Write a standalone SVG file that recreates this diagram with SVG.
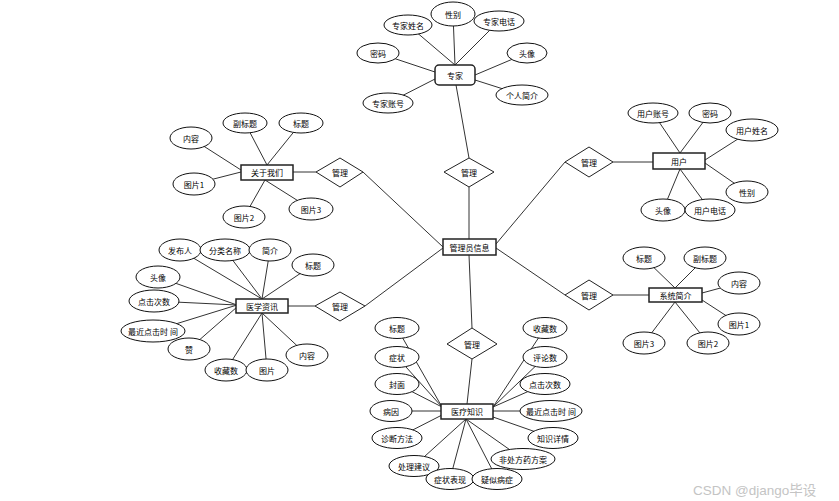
<svg xmlns="http://www.w3.org/2000/svg" width="839" height="501" viewBox="0 0 839 501">
<style>
.bg{fill:#fff}
.c line{stroke:#333;stroke-width:1}
.a{fill:#fff;stroke:#111;stroke-width:1}
.e{fill:#fff;stroke:#222;stroke-width:1.5}
.d{fill:#fff;stroke:#222;stroke-width:1}
text{font-family:"Noto Sans CJK SC","Liberation Sans",sans-serif;font-size:8px;text-anchor:middle;dominant-baseline:central;fill:#000}
.wm{font-family:"Liberation Sans","Noto Sans CJK SC",sans-serif;font-size:13.5px;fill:#c4c4c4;text-anchor:start}
</style>
<rect class="bg" x="0" y="0" width="839" height="501"/>
<g id="connectors" class="c">
<line x1="453" y1="14" x2="455" y2="65"/>
<line x1="408" y1="25" x2="455" y2="65"/>
<line x1="499" y1="21" x2="455" y2="65"/>
<line x1="378" y1="53" x2="435" y2="72"/>
<line x1="388" y1="103" x2="435" y2="79"/>
<line x1="527" y1="53" x2="475" y2="75"/>
<line x1="522" y1="95" x2="475" y2="80"/>
<line x1="456" y1="85" x2="469" y2="158"/>
<line x1="469" y1="187" x2="469" y2="239"/>
<line x1="293" y1="172" x2="316" y2="172"/>
<line x1="363" y1="172" x2="443" y2="247"/>
<line x1="191" y1="138" x2="241" y2="170"/>
<line x1="245" y1="123" x2="267" y2="165"/>
<line x1="301" y1="123" x2="267" y2="165"/>
<line x1="194" y1="184" x2="241" y2="172"/>
<line x1="244" y1="217" x2="265" y2="180"/>
<line x1="311" y1="209" x2="265" y2="180"/>
<line x1="613" y1="162" x2="653" y2="162"/>
<line x1="565" y1="162" x2="496" y2="244"/>
<line x1="653" y1="113" x2="680" y2="153"/>
<line x1="710" y1="113" x2="680" y2="153"/>
<line x1="752" y1="130" x2="705" y2="160"/>
<line x1="747" y1="192" x2="705" y2="163"/>
<line x1="663" y1="210" x2="680" y2="169"/>
<line x1="710" y1="210" x2="680" y2="169"/>
<line x1="288" y1="306" x2="315" y2="306"/>
<line x1="365" y1="306" x2="443" y2="248"/>
<line x1="180" y1="250" x2="262" y2="299"/>
<line x1="225" y1="250" x2="262" y2="299"/>
<line x1="270" y1="250" x2="262" y2="299"/>
<line x1="313" y1="265" x2="262" y2="299"/>
<line x1="158" y1="277" x2="237" y2="305"/>
<line x1="154" y1="301" x2="237" y2="305"/>
<line x1="153" y1="331" x2="237" y2="305"/>
<line x1="189" y1="349" x2="237" y2="307"/>
<line x1="226" y1="370" x2="262" y2="313"/>
<line x1="267" y1="370" x2="262" y2="313"/>
<line x1="307" y1="355" x2="262" y2="313"/>
<line x1="613" y1="295" x2="649" y2="295"/>
<line x1="565" y1="295" x2="496" y2="248"/>
<line x1="644" y1="258" x2="675" y2="288"/>
<line x1="705" y1="258" x2="675" y2="288"/>
<line x1="739" y1="283" x2="702" y2="293"/>
<line x1="739" y1="324" x2="702" y2="300"/>
<line x1="644" y1="343" x2="675" y2="302"/>
<line x1="708" y1="343" x2="675" y2="302"/>
<line x1="469" y1="255" x2="472" y2="328"/>
<line x1="472" y1="359" x2="467" y2="404"/>
<line x1="397" y1="328" x2="442" y2="407"/>
<line x1="397" y1="357" x2="442" y2="407"/>
<line x1="397" y1="384" x2="442" y2="407"/>
<line x1="391" y1="411" x2="441" y2="411"/>
<line x1="397" y1="438" x2="442" y2="415"/>
<line x1="414" y1="466" x2="466" y2="419"/>
<line x1="450" y1="479" x2="466" y2="419"/>
<line x1="497" y1="479" x2="466" y2="419"/>
<line x1="523" y1="459" x2="466" y2="419"/>
<line x1="553" y1="438" x2="493" y2="417"/>
<line x1="551" y1="411" x2="493" y2="411"/>
<line x1="545" y1="384" x2="493" y2="407"/>
<line x1="545" y1="357" x2="493" y2="407"/>
<line x1="545" y1="328" x2="493" y2="407"/>
</g>

<g id="admin"><rect class="e" x="443" y="239" width="53" height="16"/><text x="469.5" y="247">管理员信息</text></g>

<g id="rel-expert"><polygon class="d" points="469,158 494,172 469,187 444,172"/><text x="469" y="172">管理</text></g>
<g id="rel-about"><polygon class="d" points="340,158 363,172 340,187 316,172"/><text x="340" y="172">管理</text></g>
<g id="rel-user"><polygon class="d" points="589,147 613,162 589,177 565,162"/><text x="589" y="162">管理</text></g>
<g id="rel-news"><polygon class="d" points="340,292 365,306 340,321 315,306"/><text x="340" y="306">管理</text></g>
<g id="rel-intro"><polygon class="d" points="589,280 613,295 589,310 565,295"/><text x="589" y="295">管理</text></g>
<g id="rel-knowledge"><polygon class="d" points="472,328 497,344 472,359 447,344"/><text x="472" y="344">管理</text></g>

<g id="expert">
<rect class="e" x="435" y="65" width="40" height="20" rx="4"/><text x="455" y="75">专家</text>
<ellipse class="a" cx="453" cy="14" rx="22" ry="12"/><text x="453" y="14">性别</text>
<ellipse class="a" cx="408" cy="25" rx="24" ry="10"/><text x="408" y="25">专家姓名</text>
<ellipse class="a" cx="499" cy="21" rx="25" ry="10"/><text x="499" y="21">专家电话</text>
<ellipse class="a" cx="378" cy="53" rx="21" ry="10"/><text x="378" y="53">密码</text>
<ellipse class="a" cx="388" cy="103" rx="25" ry="10"/><text x="388" y="103">专家账号</text>
<ellipse class="a" cx="527" cy="53" rx="20" ry="10"/><text x="527" y="53">头像</text>
<ellipse class="a" cx="522" cy="95" rx="26" ry="10"/><text x="522" y="95">个人简介</text>
</g>

<g id="about">
<rect class="e" x="241" y="165" width="52" height="15"/><text x="267" y="172.5">关于我们</text>
<ellipse class="a" cx="191" cy="138" rx="21" ry="11"/><text x="191" y="138">内容</text>
<ellipse class="a" cx="245" cy="123" rx="22" ry="10"/><text x="245" y="123">副标题</text>
<ellipse class="a" cx="301" cy="123" rx="22" ry="10"/><text x="301" y="123">标题</text>
<ellipse class="a" cx="194" cy="184" rx="21" ry="11"/><text x="194" y="184">图片1</text>
<ellipse class="a" cx="244" cy="217" rx="21" ry="11"/><text x="244" y="217">图片2</text>
<ellipse class="a" cx="311" cy="209" rx="22" ry="11"/><text x="311" y="209">图片3</text>
</g>

<g id="user">
<rect class="e" x="653" y="153" width="52" height="16"/><text x="679" y="161">用户</text>
<ellipse class="a" cx="653" cy="113" rx="25" ry="10"/><text x="653" y="113">用户账号</text>
<ellipse class="a" cx="710" cy="113" rx="21" ry="10"/><text x="710" y="113">密码</text>
<ellipse class="a" cx="752" cy="130" rx="26" ry="11"/><text x="752" y="130">用户姓名</text>
<ellipse class="a" cx="747" cy="192" rx="21" ry="11"/><text x="747" y="192">性别</text>
<ellipse class="a" cx="663" cy="210" rx="22" ry="11"/><text x="663" y="210">头像</text>
<ellipse class="a" cx="710" cy="210" rx="25" ry="11"/><text x="710" y="210">用户电话</text>
</g>

<g id="news">
<rect class="e" x="236" y="299" width="52" height="14"/><text x="262" y="306">医学资讯</text>
<ellipse class="a" cx="180" cy="250" rx="21" ry="11"/><text x="180" y="250">发布人</text>
<ellipse class="a" cx="225" cy="250" rx="25" ry="11"/><text x="225" y="250">分类名称</text>
<ellipse class="a" cx="270" cy="250" rx="21" ry="11"/><text x="270" y="250">简介</text>
<ellipse class="a" cx="313" cy="265" rx="21" ry="11"/><text x="313" y="265">标题</text>
<ellipse class="a" cx="158" cy="277" rx="22" ry="11"/><text x="158" y="277">头像</text>
<ellipse class="a" cx="154" cy="301" rx="25" ry="11"/><text x="154" y="301">点击次数</text>
<ellipse class="a" cx="153" cy="331" rx="32" ry="11"/><text x="153" y="331">最近点击时 间</text>
<ellipse class="a" cx="189" cy="349" rx="21" ry="11"/><text x="189" y="349">赞</text>
<ellipse class="a" cx="226" cy="370" rx="21" ry="11"/><text x="226" y="370">收藏数</text>
<ellipse class="a" cx="267" cy="370" rx="21" ry="11"/><text x="267" y="370">图片</text>
<ellipse class="a" cx="307" cy="355" rx="21" ry="11"/><text x="307" y="355">内容</text>
</g>

<g id="intro">
<rect class="e" x="649" y="288" width="53" height="14"/><text x="675.5" y="295">系统简介</text>
<ellipse class="a" cx="644" cy="258" rx="21" ry="11"/><text x="644" y="258">标题</text>
<ellipse class="a" cx="705" cy="258" rx="21" ry="11"/><text x="705" y="258">副标题</text>
<ellipse class="a" cx="739" cy="283" rx="21" ry="11"/><text x="739" y="283">内容</text>
<ellipse class="a" cx="739" cy="324" rx="21" ry="11"/><text x="739" y="324">图片1</text>
<ellipse class="a" cx="644" cy="343" rx="21" ry="11"/><text x="644" y="343">图片3</text>
<ellipse class="a" cx="708" cy="343" rx="21" ry="11"/><text x="708" y="343">图片2</text>
</g>

<g id="knowledge">
<rect class="e" x="441" y="404" width="52" height="15"/><text x="467" y="411.5">医疗知识</text>
<ellipse class="a" cx="397" cy="328" rx="22" ry="10.5"/><text x="397" y="328">标题</text>
<ellipse class="a" cx="397" cy="357" rx="22" ry="10.5"/><text x="397" y="357">症状</text>
<ellipse class="a" cx="397" cy="384" rx="22" ry="10.5"/><text x="397" y="384">封面</text>
<ellipse class="a" cx="391" cy="411" rx="21" ry="10.5"/><text x="391" y="411">病因</text>
<ellipse class="a" cx="397" cy="438" rx="25" ry="10.5"/><text x="397" y="438">诊断方法</text>
<ellipse class="a" cx="414" cy="466" rx="25" ry="10.5"/><text x="414" y="466">处理建议</text>
<ellipse class="a" cx="450" cy="479" rx="24" ry="10.5"/><text x="450" y="479">症状表现</text>
<ellipse class="a" cx="497" cy="479" rx="25" ry="10.5"/><text x="497" y="479">疑似病症</text>
<ellipse class="a" cx="523" cy="459" rx="32" ry="10.5"/><text x="523" y="459">非处方药方案</text>
<ellipse class="a" cx="553" cy="438" rx="25" ry="10.5"/><text x="553" y="438">知识详情</text>
<ellipse class="a" cx="551" cy="411" rx="31" ry="10.5"/><text x="551" y="411">最近点击时 间</text>
<ellipse class="a" cx="545" cy="384" rx="25" ry="10.5"/><text x="545" y="384">点击次数</text>
<ellipse class="a" cx="545" cy="357" rx="22" ry="10.5"/><text x="545" y="357">评论数</text>
<ellipse class="a" cx="545" cy="328" rx="22" ry="10.5"/><text x="545" y="328">收藏数</text>
</g>

<text class="wm" x="693" y="490">CSDN @django毕设</text>
</svg>
